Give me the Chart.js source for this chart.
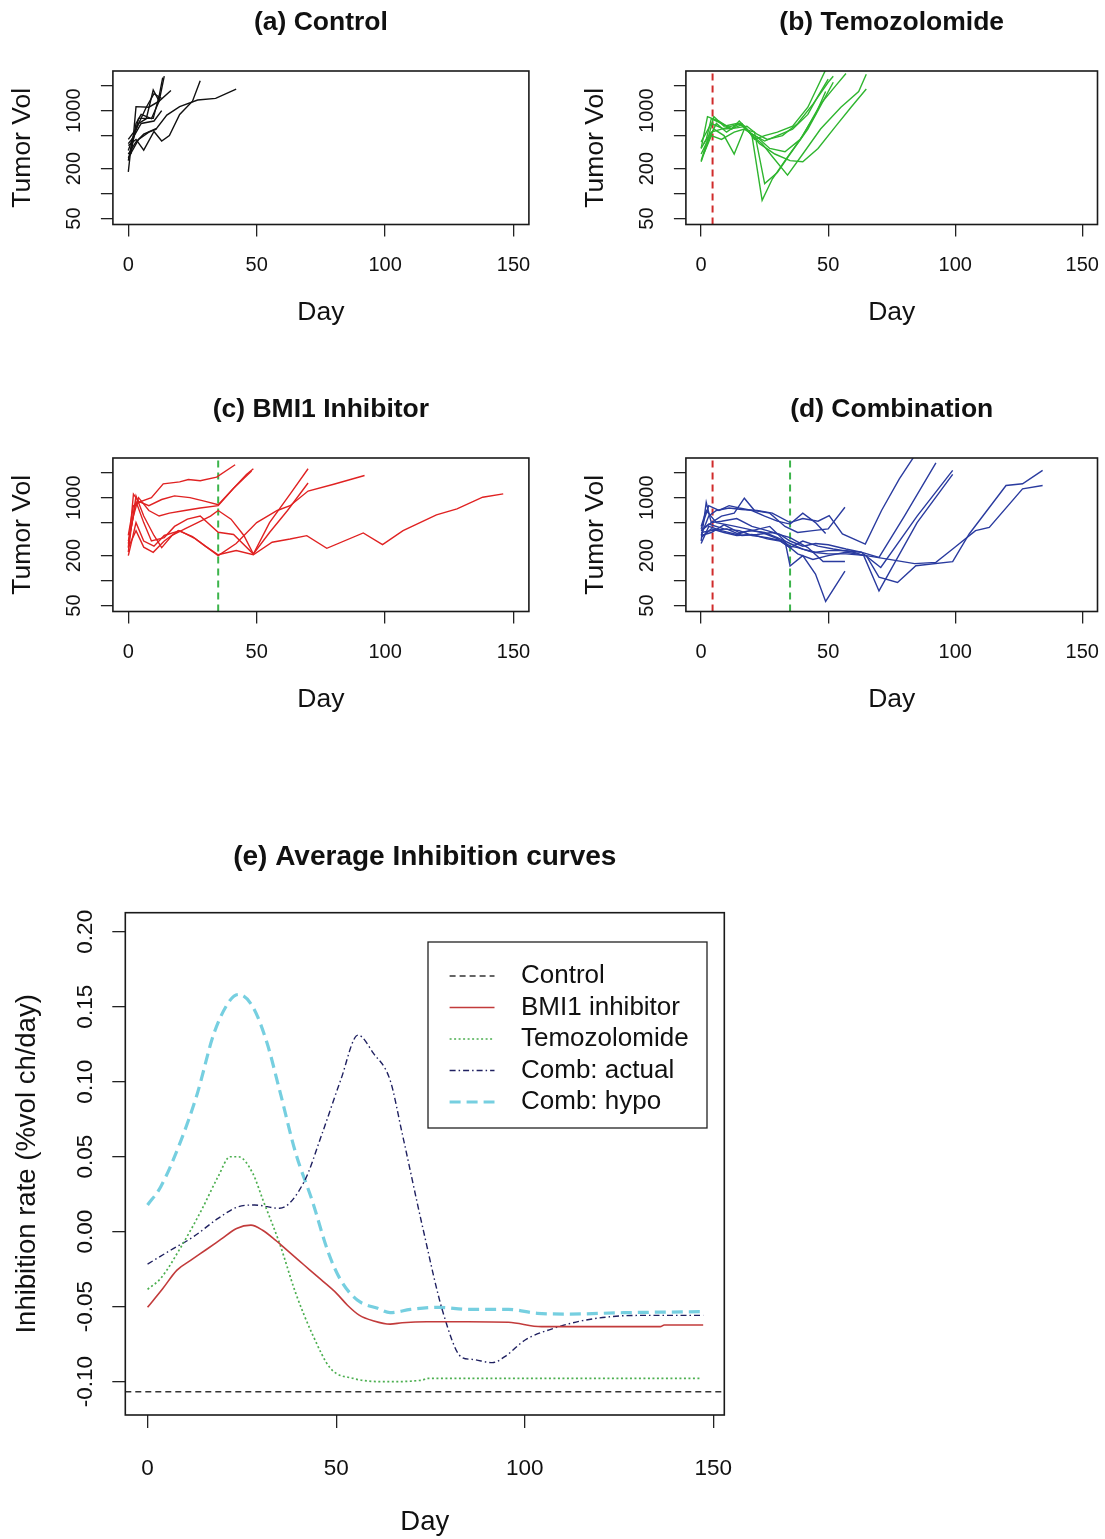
<!DOCTYPE html>
<html>
<head>
<meta charset="utf-8">
<script src="https://cdn.jsdelivr.net/npm/chart.js@4.4.1/dist/chart.umd.min.js"></script>
<style>
    html, body { margin: 0; padding: 0; background: #fff; }
    body { width: 1105px; height: 1539px; position: relative; overflow: hidden; }
    canvas { position: absolute; }
</style>
</head>
<body>
<canvas id="panelA" width="552" height="340" style="left:0;top:0"></canvas>
<canvas id="panelB" width="532" height="340" style="left:573px;top:0"></canvas>
<canvas id="panelC" width="552" height="340" style="left:0;top:386.5px"></canvas>
<canvas id="panelD" width="532" height="340" style="left:573px;top:386.5px"></canvas>
<canvas id="panelE" width="760" height="719" style="left:0;top:820px"></canvas>

<script>
const FONT = '"Liberation Sans", Arial, sans-serif';

// axes of the four tumour panels
const DAY_MIN = -6;
const DAY_MAX = 156;
const VOL_MIN = 42.4;
const VOL_MAX = 3006;
const dayTicks = [0, 50, 100, 150];
const volTicks = [50, 100, 200, 500, 1000, 2000];
const volLabels = [50, 200, 1000];

// treatment start days (dashed markers)
const temozolomideDay = 4.5;
const bmi1Day = 35;

// one entry per mouse: [day, tumour volume]
const controlMice = [
    [[0, 300], [3, 420], [6, 520], [11, 611], [15, 885], [20, 1117], [27, 1343], [34, 1406], [42, 1820]],
    [[0, 380], [3, 450], [6, 334], [10, 560], [13, 430], [16, 500], [20, 900], [25, 1300], [28, 2300]],
    [[0, 250], [2, 500], [3, 1117], [8, 1100], [12, 1300], [14, 2600]],
    [[0, 183], [1, 350], [3, 600], [4, 807], [9.7, 807], [12, 1500], [13.4, 2500]],
    [[1, 300], [3, 700], [5, 900], [9, 800], [12, 1300], [16.6, 1750]],
    [[0, 330], [2, 500], [4, 700], [7, 800], [9.7, 1774], [12, 1300]],
    [[0, 450], [3, 600], [7, 1100], [10, 1600], [13, 1400]],
    [[0, 270], [4, 450], [8, 550], [11, 600]],
    [[0, 400], [2, 480], [5, 700], [10, 750], [13, 1000]]
];

const temozolomideMice = [
    [[0, 350], [2, 450], [4, 800], [8, 700], [12, 600], [15, 750], [18, 600], [21, 450], [25, 500], [30, 550], [36, 650], [42, 1100], [49, 3100]],
    [[0, 250], [3, 500], [5, 850], [9, 650], [14, 700], [17, 650], [20, 500], [24, 83], [28, 150], [33, 250], [40, 500], [47, 1200], [53, 2000], [57, 2800]],
    [[0, 300], [2, 400], [5, 600], [9, 500], [13, 300], [17, 600], [21, 550], [25, 132], [30, 180], [35, 300], [42, 600], [48, 1300], [52, 2200]],
    [[1, 400], [4, 550], [8, 600], [12, 650], [16, 700], [20, 500], [24, 400], [28, 280], [34, 167], [40, 300], [47, 600], [55, 1100], [62, 1700], [65, 2750]],
    [[0, 242], [3, 450], [6, 700], [10, 550], [15, 700], [19, 550], [23, 400], [29, 300], [35, 250], [40, 242], [46, 350], [53, 650], [59, 1100], [65, 1820]],
    [[0, 350], [2.5, 845], [7, 750], [12, 600], [16, 680], [20, 520], [25, 430], [30, 500], [36, 600], [42, 900], [46, 1500], [50, 2400]],
    [[1, 300], [4, 500], [8, 450], [13, 550], [17, 600], [22, 480], [27, 350], [33, 320], [39, 450], [45, 900], [49, 1700]],
    [[0, 420], [4, 700], [9, 600], [14, 620], [18, 650], [22, 520], [26, 450], [32, 500], [38, 700], [44, 1200], [50, 2200], [52, 2600]]
];

const bmi1Mice = [
    [[0, 350], [2, 800], [5, 900], [9, 1000], [13.6, 1469], [20, 1550], [23.4, 1656], [28, 1600], [34.4, 1767], [41.6, 2494]],
    [[0, 250], [1, 500], [2, 1100], [4, 900], [8, 800], [13, 950], [18, 1050], [24, 1000], [30, 900], [35, 820], [40, 1200], [46, 1900], [48.7, 2230]],
    [[0, 300], [2, 600], [4, 1000], [8, 700], [12, 600], [16, 650], [22, 700], [28, 750], [35, 800], [41, 1300], [48, 2100]],
    [[0, 220], [1, 400], [3, 1050], [6, 600], [10, 350], [13, 250], [17, 350], [22, 420], [27, 500], [32, 600], [35, 700], [40, 550], [45, 350], [48.7, 209], [55, 380], [62, 700], [70, 1500]],
    [[0, 280], [3, 900], [6, 500], [9, 300], [14, 330], [18, 450], [23, 550], [28, 600], [35, 382], [41, 360], [48.7, 209], [55, 500], [63, 1100], [70, 2230]],
    [[0, 200], [3, 500], [6, 300], [10, 260], [14, 350], [20, 400], [26, 320], [35, 200], [42, 280], [50, 500], [58, 700], [63, 800], [70, 1200], [80, 1450], [92, 1850]],
    [[0, 250], [3, 400], [6, 253], [9.7, 219], [14, 300], [19.5, 400], [25, 340], [30, 260], [35, 205], [42, 230], [48.7, 205], [56, 290], [63, 317], [69.5, 348], [77.3, 245], [91.5, 375], [99, 271], [107, 400], [120, 619], [128, 731], [138, 1012], [146, 1111]]
];

const combinationMice = [
    [[0, 300], [2, 881], [4, 500], [8, 600], [13, 650], [17, 985], [21, 700], [27, 650], [33, 450], [38, 380], [44, 400], [50, 420], [56.6, 766]],
    [[0, 350], [3, 600], [6, 700], [11, 750], [16, 720], [22, 700], [28, 650], [35, 500], [40, 560], [46, 520], [50.4, 608], [55.6, 365], [64.6, 276], [71, 700], [78, 1687], [84, 3200]],
    [[0, 400], [4, 500], [8, 520], [14, 560], [20, 450], [26, 400], [31, 360], [35, 300], [40, 260], [45, 280], [50, 270], [57, 240], [63, 220], [70, 190], [80, 600], [92.4, 2630]],
    [[0, 280], [3, 450], [8, 400], [14, 360], [19, 400], [25, 380], [30, 330], [35, 280], [40, 240], [45, 220], [50, 230], [57, 230], [63, 220], [70.7, 144], [85, 600], [99, 2129]],
    [[0, 450], [2, 700], [6, 500], [12, 460], [18, 420], [24, 380], [30, 320], [35, 250], [40, 300], [46, 260], [52, 240], [60, 220], [64, 200], [70, 75], [85, 500], [99, 1904]],
    [[0, 330], [4, 420], [9, 380], [14, 350], [20, 360], [26, 320], [31, 300], [35, 250], [38, 210], [44, 180], [50, 200], [57, 220], [65, 200], [70, 110], [77.3, 95], [84.5, 151], [99, 169], [105.5, 365], [120, 1400], [126.5, 1468], [134.4, 2129]],
    [[0, 400], [3, 480], [9, 420], [15, 400], [20, 350], [26, 330], [32, 300], [35, 260], [38, 250], [44, 220], [50, 210], [57, 210], [65, 200], [74, 180], [84, 160], [92.4, 166], [99, 240], [108, 400], [113.4, 438], [126.5, 1277], [134.4, 1400]],
    [[0, 350], [4, 380], [9, 470], [15, 380], [20, 400], [27, 450], [33, 300], [35, 150], [40, 200], [45, 120], [49, 56], [56.6, 130]],
    [[0, 380], [4, 400], [10, 420], [16, 350], [22, 360], [28, 380], [35, 330], [42, 250], [48, 170], [56.6, 170]],
    [[0, 420], [3, 800], [7, 700], [11, 800], [15, 750], [20, 700], [25, 600], [30, 520], [35, 480], [40, 650], [45, 500], [49, 370]]
];

// panel (e): average inhibition rate, [day, %vol ch/day]
const RATE_DAY_MIN = -5.9;
const RATE_DAY_MAX = 152.9;
const RATE_MIN = -0.1222;
const RATE_MAX = 0.2127;
const rateTicks = [-0.10, -0.05, 0, 0.05, 0.10, 0.15, 0.20];
const controlRate = -0.1067;
const bmi1Rate = [[0, -0.0504], [4, -0.038], [7.8, -0.0256], [11.5, -0.019], [15.4, -0.0122], [19.5, -0.005], [23.6, 0.0022], [27.4, 0.0044], [30.5, 0.001], [33.9, -0.0056], [37.5, -0.0135], [41.5, -0.0222], [46, -0.032], [50.1, -0.0411], [53, -0.049], [56.1, -0.0556], [60, -0.0595], [64.3, -0.0616], [67.5, -0.0607], [74, -0.06], [85, -0.06], [95.7, -0.0604], [104.4, -0.0633], [120, -0.0633], [135.9, -0.0633], [137, -0.0622], [147.3, -0.0622]];
const temozolomideRate = [[0, -0.0384], [3.5, -0.0311], [8.9, -0.01], [14.3, 0.0144], [18.7, 0.0367], [21.9, 0.05], [24.1, 0.05], [27.9, 0.0389], [30.6, 0.0211], [35, -0.0078], [39.3, -0.0411], [43.6, -0.0678], [48.5, -0.0911], [54.5, -0.0978], [63.2, -0.1], [72.9, -0.0989], [74, -0.0978], [146.8, -0.0978]];
const combActualRate = [[0, -0.0216], [6.2, -0.0122], [12.2, -0.0033], [18.7, 0.0089], [24.1, 0.0167], [28.4, 0.0178], [35, 0.0156], [41.5, 0.0333], [46.3, 0.0656], [51.2, 0.1011], [55.8, 0.1311], [59.9, 0.1189], [64.3, 0.1011], [67.5, 0.0656], [72.9, 0.0033], [78.4, -0.0544], [83.3, -0.0838], [86, -0.0851], [91.4, -0.0873], [94.7, -0.0833], [100.1, -0.0722], [107.7, -0.0644], [115.3, -0.0593], [125, -0.0562], [131.6, -0.0558], [147.3, -0.0558]];
const combHypoRate = [[0, 0.0178], [3.5, 0.03], [8.9, 0.0611], [13.2, 0.0922], [17.6, 0.1322], [21.9, 0.1544], [24.1, 0.1582], [27.9, 0.15], [31.7, 0.1256], [35, 0.0944], [39.3, 0.0522], [43.6, 0.0211], [48, -0.0144], [51.2, -0.0322], [55.6, -0.0456], [61, -0.0511], [64.3, -0.054], [69.7, -0.0518], [77.3, -0.0504], [84.9, -0.0518], [95.7, -0.0518], [103.3, -0.0544], [112, -0.0549], [126.1, -0.054], [147.3, -0.0533]];

const toPoints = list => list.map(p => ({x: p[0], y: p[1]}));

// box round the plot region
const plotBox = {
    id: 'plotBox',
    afterDraw(chart) {
        const {ctx, chartArea: a} = chart;
        ctx.save();
        ctx.strokeStyle = '#1a1a1a';
        ctx.lineWidth = 1.6;
        ctx.strokeRect(a.left, a.top, a.right - a.left, a.bottom - a.top);
        ctx.restore();
    }
};

// legend drawn inside the plot, top right
const insetLegend = {
    id: 'insetLegend',
    afterDraw(chart, args, opts) {
        const {ctx, chartArea: a} = chart;
        const right = a.right - opts.insetX;
        const top = a.top + opts.insetY;
        const left = right - opts.width;
        ctx.save();
        ctx.fillStyle = '#fff';
        ctx.fillRect(left, top, opts.width, opts.height);
        ctx.strokeStyle = '#222';
        ctx.lineWidth = 1.3;
        ctx.strokeRect(left, top, opts.width, opts.height);
        ctx.font = opts.fontSize + 'px ' + FONT;
        ctx.textBaseline = 'middle';
        chart.data.datasets.forEach((ds, i) => {
            const y = top + opts.firstRow + i * opts.rowGap;
            ctx.strokeStyle = ds.borderColor;
            ctx.lineWidth = ds.borderWidth;
            ctx.setLineDash(ds.borderDash || []);
            ctx.beginPath();
            ctx.moveTo(left + opts.lineStart, y);
            ctx.lineTo(left + opts.lineEnd, y);
            ctx.stroke();
            ctx.setLineDash([]);
            ctx.fillStyle = '#111';
            ctx.fillText(ds.label, left + opts.textX, y);
        });
        ctx.restore();
    }
};

function fixSize(size, vertical) {
    return function (scale) {
        if (vertical) {
            scale.width = size;
        } else {
            scale.height = size;
        }
        scale.paddingLeft = 0;
        scale.paddingRight = 0;
        scale.paddingTop = 0;
        scale.paddingBottom = 0;
    };
}

function tumorPanel(id, title, mice, color, markers, padRight) {
    const datasets = mice.map(m => ({
        data: toPoints(m),
        borderColor: color,
        borderWidth: 1.4,
        pointRadius: 0,
        tension: 0,
        fill: false
    }));

    markers.forEach(mk => {
        datasets.push({
            data: [{x: mk.day, y: VOL_MIN}, {x: mk.day, y: VOL_MAX}],
            borderColor: mk.color,
            borderWidth: 2,
            borderDash: [7, 5],
            pointRadius: 0,
            fill: false
        });
    });

    new Chart(document.getElementById(id), {
        type: 'line',
        data: {datasets: datasets},
        plugins: [plotBox],
        options: {
            responsive: false,
            animation: false,
            layout: {padding: {left: 0, right: padRight, top: 0, bottom: 0}},
            plugins: {
                legend: {display: false},
                tooltip: {enabled: false},
                title: {
                    display: true,
                    text: title,
                    fullSize: false,
                    color: '#111',
                    font: {family: FONT, size: 26.5, weight: 'bold'},
                    padding: {top: 7, bottom: 32.2}
                }
            },
            scales: {
                x: {
                    type: 'linear',
                    min: DAY_MIN,
                    max: DAY_MAX,
                    bounds: 'data',
                    afterBuildTicks: s => { s.ticks = dayTicks.map(v => ({value: v})); },
                    afterFit: fixSize(115.5, false),
                    grid: {drawOnChartArea: false, drawTicks: true, tickLength: 12, color: '#222', lineWidth: 1.3},
                    border: {display: false},
                    ticks: {padding: 16.5, color: '#111', maxRotation: 0, autoSkip: false, font: {family: FONT, size: 20}},
                    title: {display: true, text: 'Day', color: '#111', font: {family: FONT, size: 26.5}, padding: {top: 0, bottom: 11.6}}
                },
                y: {
                    type: 'logarithmic',
                    min: VOL_MIN,
                    max: VOL_MAX,
                    bounds: 'data',
                    afterBuildTicks: s => { s.ticks = volTicks.map(v => ({value: v})); },
                    afterFit: fixSize(112.9, true),
                    grid: {drawOnChartArea: false, drawTicks: true, tickLength: 12, color: '#222', lineWidth: 1.3},
                    border: {display: false},
                    ticks: {
                        minRotation: 90,
                        maxRotation: 90,
                        crossAlign: 'center',
                        padding: 3.8,
                        autoSkip: false,
                        color: '#111',
                        font: {family: FONT, size: 20},
                        callback: v => volLabels.includes(v) ? String(v) : ''
                    },
                    title: {display: true, text: 'Tumor Vol', color: '#111', font: {family: FONT, size: 26.5}, padding: {top: 7, bottom: 0}}
                }
            }
        }
    });
}

tumorPanel('panelA', '(a) Control', controlMice, '#111111', [], 23.1);
tumorPanel('panelB', '(b) Temozolomide', temozolomideMice, '#2fb52f',
    [{day: temozolomideDay, color: '#d02b2b'}], 7.5);
tumorPanel('panelC', '(c) BMI1 Inhibitor', bmi1Mice, '#e02222',
    [{day: bmi1Day, color: '#3cb44b'}], 23.1);
tumorPanel('panelD', '(d) Combination', combinationMice, '#2a3b9f',
    [{day: temozolomideDay, color: '#d02b2b'}, {day: bmi1Day, color: '#3cb44b'}], 7.5);

// panel (e)
new Chart(document.getElementById('panelE'), {
    type: 'line',
    data: {
        datasets: [
            {
                label: 'Control',
                data: [{x: RATE_DAY_MIN, y: controlRate}, {x: RATE_DAY_MAX, y: controlRate}],
                borderColor: '#333333',
                borderWidth: 1.4,
                borderDash: [6, 4]
            },
            {
                label: 'BMI1 inhibitor',
                data: toPoints(bmi1Rate),
                borderColor: '#c23b3b',
                borderWidth: 1.6
            },
            {
                label: 'Temozolomide',
                data: toPoints(temozolomideRate),
                borderColor: '#4caf50',
                borderWidth: 1.7,
                borderDash: [2, 2.5]
            },
            {
                label: 'Comb: actual',
                data: toPoints(combActualRate),
                borderColor: '#1f2060',
                borderWidth: 1.4,
                borderDash: [6, 3, 1.5, 3]
            },
            {
                label: 'Comb: hypo',
                data: toPoints(combHypoRate),
                borderColor: '#76cfe0',
                borderWidth: 3.2,
                borderDash: [11, 6]
            }
        ].map(ds => Object.assign(ds, {pointRadius: 0, fill: false, tension: 0.35, cubicInterpolationMode: 'monotone'}))
    },
    plugins: [plotBox, insetLegend],
    options: {
        responsive: false,
        animation: false,
        layout: {padding: {left: 0, right: 35.7, top: 0, bottom: 0}},
        plugins: {
            legend: {display: false},
            tooltip: {enabled: false},
            title: {
                display: true,
                text: '(e) Average Inhibition curves',
                fullSize: false,
                color: '#111',
                font: {family: FONT, size: 28, weight: 'bold'},
                padding: {top: 20.5, bottom: 38.6}
            },
            insetLegend: {
                insetX: 17.3,
                insetY: 29.3,
                width: 279,
                height: 186,
                firstRow: 34,
                rowGap: 31.5,
                lineStart: 21.6,
                lineEnd: 66.5,
                textX: 93,
                fontSize: 26
            }
        },
        scales: {
            x: {
                type: 'linear',
                min: RATE_DAY_MIN,
                max: RATE_DAY_MAX,
                bounds: 'data',
                afterBuildTicks: s => { s.ticks = dayTicks.map(v => ({value: v})); },
                afterFit: fixSize(124, false),
                grid: {drawOnChartArea: false, drawTicks: true, tickLength: 13, color: '#222', lineWidth: 1.3},
                border: {display: false},
                ticks: {padding: 27, color: '#111', maxRotation: 0, autoSkip: false, font: {family: FONT, size: 22.5}},
                title: {display: true, text: 'Day', color: '#111', font: {family: FONT, size: 27.5}, padding: {top: 0, bottom: 0}}
            },
            y: {
                type: 'linear',
                min: RATE_MIN,
                max: RATE_MAX,
                bounds: 'data',
                afterBuildTicks: s => { s.ticks = rateTicks.map(v => ({value: v})); },
                afterFit: fixSize(125.3, true),
                grid: {drawOnChartArea: false, drawTicks: true, tickLength: 13, color: '#222', lineWidth: 1.3},
                border: {display: false},
                ticks: {
                    minRotation: 90,
                    maxRotation: 90,
                    crossAlign: 'center',
                    padding: 1,
                    autoSkip: false,
                    color: '#111',
                    font: {family: FONT, size: 22.5},
                    callback: v => v.toFixed(2)
                },
                title: {display: true, text: 'Inhibition rate (%vol ch/day)', color: '#111', font: {family: FONT, size: 27.5}, padding: {top: 10.5, bottom: 0}}
            }
        }
    }
});
</script>
</body>
</html>
